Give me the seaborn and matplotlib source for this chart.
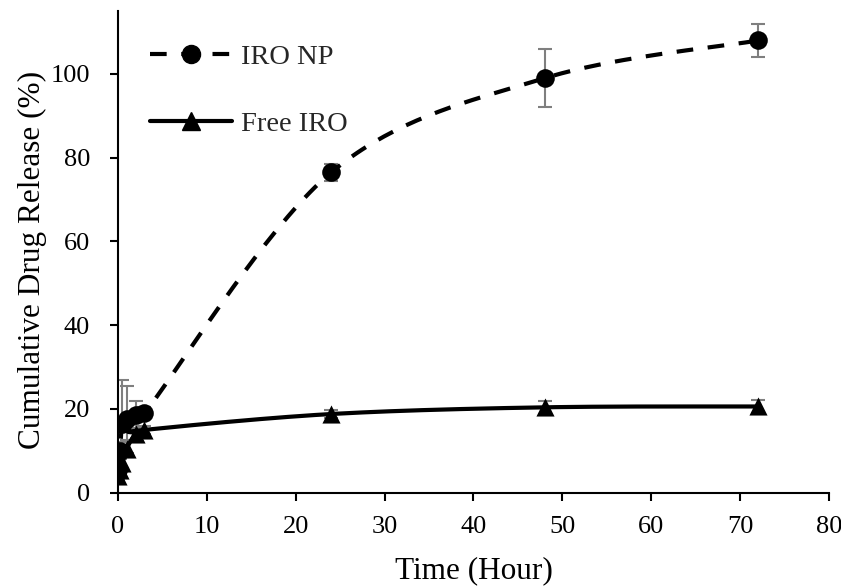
import numpy as np
import matplotlib
matplotlib.use("Agg")
import matplotlib.pyplot as plt
from matplotlib.lines import Line2D
import seaborn as sns

# Data
time_h = [0, 0.25, 0.5, 1, 2, 3, 24, 48, 72]
np_release = [5.5, 10, 16.5, 17.5, 18.5, 19, 76.5, 99, 108]
np_err = [1, 2, 10.5, 8, 3.5, 1.5, 2, 7, 4]
free_release = [4, 5.5, 7, 10.5, 14, 15, 18.8, 20.4, 20.6]
free_err = [1, 1, 1.5, 2, 1.5, 1, 1, 1.5, 1.5]

x_ticks = [0, 10, 20, 30, 40, 50, 60, 70, 80]
y_ticks = [0, 20, 40, 60, 80, 100]


def smooth_curve(x, y, n=40):
    # Excel-like smoothed line: cubic Bezier segments through the points
    x = np.asarray(x, float)
    y = np.asarray(y, float)
    pts = np.column_stack([x, y])
    padded = np.vstack([pts[0], pts, pts[-1]])
    t = np.linspace(0, 1, n)[:, None]
    out = []
    for i in range(len(pts) - 1):
        p0, p1, p2, p3 = padded[i], padded[i + 1], padded[i + 2], padded[i + 3]
        c1 = p1 + (p2 - p0) / 6
        c2 = p2 - (p3 - p1) / 6
        seg = ((1 - t) ** 3) * p1 + 3 * ((1 - t) ** 2) * t * c1 + 3 * (1 - t) * t ** 2 * c2 + t ** 3 * p2
        out.append(seg)
    out = np.vstack(out)
    return out[:, 0], out[:, 1]


sns.set_theme(style="ticks")
plt.rcParams['font.family'] = ['Liberation Serif', 'DejaVu Serif']

fig = plt.figure(figsize=(8.41, 5.88), dpi=100)
ax = fig.add_axes([0.140, 0.162, 0.846, 0.819])

# error bars (grey, behind markers)
ax.errorbar(time_h, np_release, yerr=np_err, fmt='none', ecolor='#7f7f7f',
            elinewidth=1.5, capsize=5, capthick=1.5, zorder=1)
ax.errorbar(time_h, free_release, yerr=free_err, fmt='none', ecolor='#7f7f7f',
            elinewidth=1.5, capsize=5, capthick=1.5, zorder=1)

# smoothed lines
sx, sy = smooth_curve(time_h, np_release)
ax.plot(sx, sy, color='black', lw=3, ls=(0, (4, 3.5)), zorder=2)
sx, sy = smooth_curve(time_h, free_release)
ax.plot(sx, sy, color='black', lw=3, ls='-', zorder=2)

# markers
sns.scatterplot(x=time_h, y=np_release, marker='o', s=180, color='black',
                edgecolor='black', linewidth=0, ax=ax, zorder=3)
sns.scatterplot(x=time_h, y=free_release, marker='^', s=170, color='black',
                edgecolor='black', linewidth=0, ax=ax, zorder=3)

ax.set_xlim(0, 80)
ax.set_ylim(0, 115)
ax.set_xticks(x_ticks)
ax.set_yticks(y_ticks)
ax.tick_params(axis='both', labelsize=19, length=6, width=1.5, color='black',
               direction='out', labelcolor='black')
ax.tick_params(axis='x', pad=11)
ax.tick_params(axis='y', pad=14)
ax.set_xlabel("Time (Hour)", fontsize=22.5, color='black')
ax.set_ylabel("Cumulative Drug Release (%)", fontsize=22.5, color='black')
ax.xaxis.set_label_coords(0.5, -0.132)
ax.yaxis.set_label_coords(-0.1, 0.483)

sns.despine(ax=ax)
for side in ['left', 'bottom']:
    ax.spines[side].set_color('black')
    ax.spines[side].set_linewidth(1.5)

handles = [
    Line2D([], [], color='black', lw=3, ls=(0, (4, 3.5)), marker='o', markersize=13),
    Line2D([], [], color='black', lw=3, ls='-', marker='^', markersize=13),
]
ax.legend(handles, ["IRO NP", "Free IRO"], loc='upper left',
          bbox_to_anchor=(0.025, 0.962), frameon=False, fontsize=20.5,
          handlelength=2.9, handletextpad=0.3, labelspacing=1.45, borderpad=0)

fig.savefig("out.png", dpi=100)
